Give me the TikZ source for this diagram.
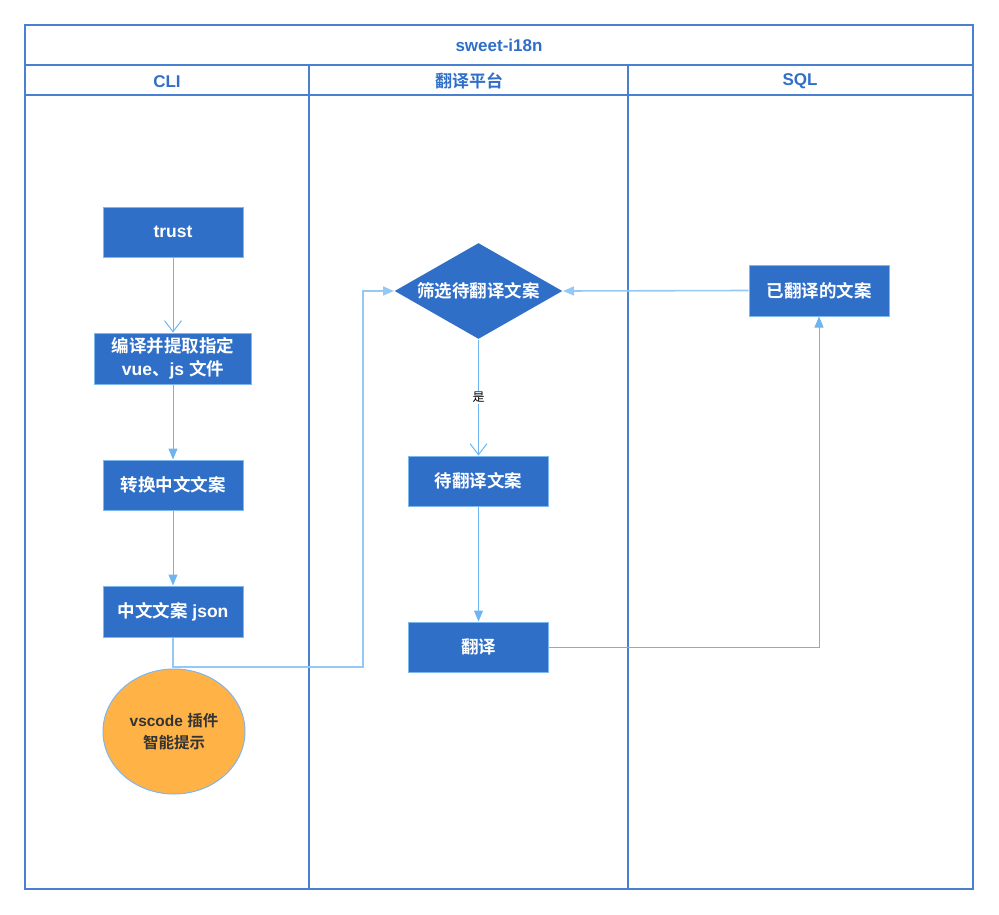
\documentclass[tikz,border=0pt]{standalone}
\usepackage{fontspec}
\setmainfont{Liberation Sans}[BoldFont={Liberation Sans Bold}]
\newfontfamily\cjk{Noto Sans CJK SC}[BoldFont={Noto Sans CJK SC Bold}]
\usetikzlibrary{arrows.meta,shapes.geometric}
\definecolor{frame}{RGB}{74,128,208}
\definecolor{boxfill}{RGB}{47,111,200}
\definecolor{boxline}{RGB}{126,182,238}
\definecolor{conn}{RGB}{110,180,240}
\definecolor{connlight}{RGB}{150,200,245}
\definecolor{orangefill}{RGB}{255,179,71}
\definecolor{titlec}{RGB}{47,111,200}
\tikzset{
  procbox/.style={draw=boxline, line width=1pt, fill=boxfill, text=white, font=\fontsize{17.5}{23}\selectfont\bfseries, align=center, inner sep=0pt},
  lanetitle/.style={text=titlec, font=\fontsize{17}{20}\selectfont\bfseries},
  conline/.style={draw=conn, line width=1pt},
  lightline/.style={draw=connlight, line width=1.6pt},
  filltip/.style={-{Triangle[length=11pt,width=9pt]}},
  opentip/.style={-{Straight Barb[length=11pt,width=17pt,line width=1pt]}},
}
\begin{document}
\begin{tikzpicture}[x=1pt,y=-1pt]
\useasboundingbox (0,0) rectangle (999,915);
% frame
\draw[frame, line width=1.3pt] (25,25) rectangle (973,889);
\draw[frame, line width=1.3pt] (25,65) -- (973,65);
\draw[frame, line width=1.3pt] (25,95) -- (973,95);
\draw[frame, line width=1.3pt] (309,65) -- (309,889);
\draw[frame, line width=1.3pt] (628,65) -- (628,889);
\node[lanetitle] (title) at (499,45) {sweet-i18n};
\node[lanetitle] (lcli) at (167,81.5) {CLI};
\node[lanetitle] (lplat) at (469,81) {\cjk 翻译平台};
\node[lanetitle] (lsql) at (800,81.5) {SQL};
% nodes
\node[procbox, minimum width=140pt, minimum height=50pt] (trust) at (173,232) {\raisebox{-2pt}{trust}};
\node[procbox, minimum width=157pt, minimum height=51pt] (compile) at (173,358.5) {{\cjk 编译并提取指定}\\vue{\cjk 、}js {\cjk 文件}};
\node[procbox, minimum width=140pt, minimum height=50pt] (conv) at (173,485) {\cjk 转换中文文案};
\node[procbox, minimum width=140pt, minimum height=51pt] (json) at (173,611.5) {{\cjk 中文文案} json};
\node[draw=boxline, line width=1pt, fill=orangefill, ellipse, minimum width=142pt, minimum height=125pt, inner sep=0pt, align=center, text={rgb,255:red,51;green,51;blue,51}, font=\fontsize{15.5}{22}\selectfont\bfseries] (vscode) at (174,731.5) {vscode {\cjk 插件}\\{\cjk 智能提示}};
\node[procbox, diamond, aspect=1.75, minimum width=168pt, minimum height=96pt, draw=none] (filter) at (478.5,291) {\cjk 筛选待翻译文案};
\node[procbox, minimum width=140pt, minimum height=50pt] (pending) at (478.5,481) {\cjk 待翻译文案};
\node[procbox, minimum width=140pt, minimum height=50pt] (trans) at (478.5,647) {\cjk 翻译};
\node[procbox, minimum width=140pt, minimum height=51pt] (done) at (819,290.5) {\cjk 已翻译的文案};
% connectors
\coordinate (j1) at (173,667);
\coordinate (j2) at (363,667);
\coordinate (j3) at (363,291);
\draw[conline, opentip] (trust) -- (compile);
\draw[conline, filltip] (compile) -- (conv);
\draw[conline, filltip] (conv) -- (json);
\draw[lightline, filltip] (json.south) -- (j1) -- (j2) -- (j3) -- (filter.west);
\draw[conline, opentip] (filter.south) -- node[pos=0.5, fill=white, inner sep=1pt, font=\fontsize{12}{14}\selectfont\cjk, text=black] (yes) {是} (pending.north);
\draw[conline, filltip] (pending) -- (trans);
\coordinate (t1) at (819,647);
\draw[conline, filltip] (trans.east) -- (t1) -- (done.south);
\draw[lightline, filltip] (done.west) -- (filter.east);
\end{tikzpicture}
\end{document}
